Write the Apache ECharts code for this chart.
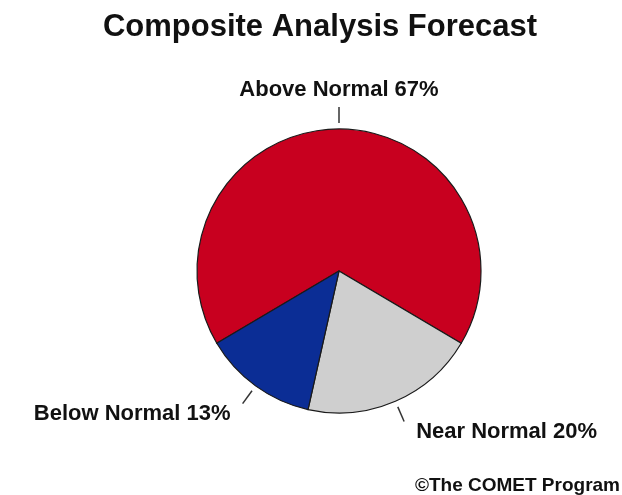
<!DOCTYPE html>
<html>
<head>
<meta charset="utf-8">
<script src="https://cdn.jsdelivr.net/npm/echarts@6/dist/echarts.min.js"></script>
<style>
  html, body { margin: 0; padding: 0; background: #ffffff; }
  #chart { width: 622px; height: 495px; }
</style>
</head>
<body>
<div id="chart"></div>
<script>
// Forecast categories and their probabilities (percent)
const categories = ['Above Normal', 'Near Normal', 'Below Normal'];
const percents = [67, 20, 13];
const sliceColors = ['#c8001f', '#cfcfcf', '#0b2d95'];

const FONT = '"Liberation Sans", Arial, Helvetica, sans-serif';
const CX = 339, CY = 271, R = 142;

// Center the first slice on 12 o'clock
const startAngle = 90 + percents[0] * 3.6 / 2;
const total = percents.reduce((a, b) => a + b, 0);

// Mid-angle of each slice, in screen radians (clockwise from 3 o'clock)
const midAngles = [];
let acc = 0;
percents.forEach(p => {
  const deg = -startAngle + (acc + p / 2) / total * 360;
  midAngles.push(deg * Math.PI / 180);
  acc += p;
});

const chart = echarts.init(document.getElementById('chart'), null, { renderer: 'canvas' });

chart.setOption({
  animation: false,
  backgroundColor: '#ffffff',
  graphic: [
    {
      type: 'text', x: 320, y: 27, silent: true,
      style: {
        text: 'Composite Analysis Forecast',
        font: 'bold 31px ' + FONT, fill: '#111111',
        align: 'center', verticalAlign: 'middle',
        textAlign: 'center', textVerticalAlign: 'middle'
      }
    },
    {
      type: 'text', x: 620, y: 486, silent: true,
      style: {
        text: '\u00A9The COMET Program',
        font: 'bold 19px ' + FONT, fill: '#111111',
        align: 'right', verticalAlign: 'middle',
        textAlign: 'right', textVerticalAlign: 'middle'
      }
    }
  ],
  series: [{
    type: 'pie',
    center: [CX, CY],
    radius: R,
    startAngle: startAngle,
    clockwise: true,
    avoidLabelOverlap: false,
    silent: true,
    data: categories.map((name, i) => ({
      name: name,
      value: percents[i],
      itemStyle: { color: sliceColors[i] }
    })),
    itemStyle: { borderColor: '#1a1a1a', borderWidth: 1.2 },
    label: {
      show: true,
      position: 'outside',
      formatter: '{b} {c}%',
      fontFamily: FONT,
      fontWeight: 'bold',
      fontSize: 22,
      color: '#111111'
    },
    labelLine: {
      show: true,
      length: 10,
      length2: 0,
      lineStyle: { color: '#333333', width: 1.5 }
    },
    // Short radial tick beyond the rim, label placed just past its outer end
    labelLayout: function (params) {
      const a = midAngles[params.dataIndex];
      const c = Math.cos(a), s = Math.sin(a);
      const p1 = [CX + (R + 6) * c, CY + (R + 6) * s];
      const p2 = [CX + (R + 22) * c, CY + (R + 22) * s];
      if (Math.abs(c) < 0.3) {
        return {
          x: p2[0], y: p2[1] - 6,
          align: 'center', verticalAlign: 'bottom',
          labelLinePoints: [p1, p2]
        };
      }
      return {
        x: p2[0] + (c > 0 ? 12 : -12), y: p2[1] + 10,
        align: c > 0 ? 'left' : 'right', verticalAlign: 'middle',
        labelLinePoints: [p1, p2]
      };
    },
    emphasis: { disabled: true }
  }]
});
</script>
</body>
</html>
